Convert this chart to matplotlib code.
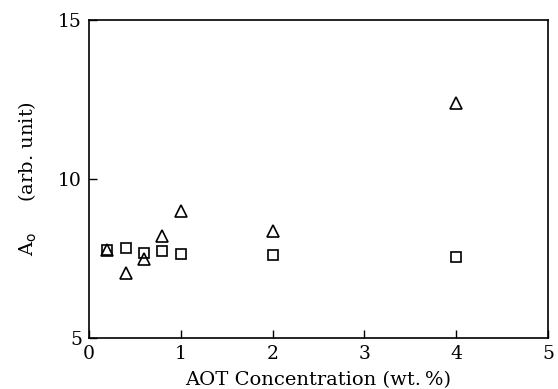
import matplotlib
matplotlib.use('agg')
import matplotlib.pyplot as plt

plt.rcParams.update({'font.family': 'DejaVu Serif', 'font.size': 14})

conc = [0.2, 0.4, 0.6, 0.8, 1.0, 2.0, 4.0]
squares = [7.77, 7.83, 7.67, 7.74, 7.64, 7.61, 7.55]
triangles = [7.77, 7.04, 7.5, 8.2, 9.0, 8.36, 12.4]

fig = plt.figure(figsize=(5.58, 3.89), dpi=100)
ax = fig.add_axes([89/558, 1-338/389, (548-89)/558, (338-20)/389])

ax.plot(conc, squares, 's', ms=7.5, mfc='none', mec='black', mew=1.2)
ax.plot(conc, triangles, '^', ms=9, mfc='none', mec='black', mew=1.2)

ax.set_xlim(0, 5)
ax.set_ylim(5, 15)
ax.set_xticks([0, 1, 2, 3, 4, 5])
ax.set_yticks([5, 10, 15])
ax.tick_params(direction='in', length=6, width=1, pad=5, labelsize=13.5)
for s in ax.spines.values():
    s.set_linewidth(1.2)

ax.set_xlabel('AOT Concentration (wt.\u2009%)', labelpad=6)
ax.set_ylabel(r'A$_{\rm o}$     (arb. unit)', labelpad=14)

fig.savefig('out.png', dpi=100)
